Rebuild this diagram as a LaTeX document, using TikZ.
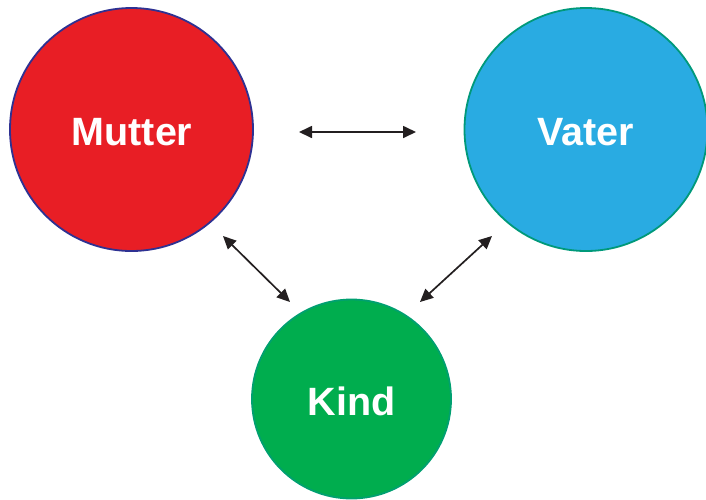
\documentclass[tikz,border=0pt]{standalone}
\usepackage{fontspec}
\setmainfont{Liberation Sans}
\usetikzlibrary{arrows.meta}
\definecolor{cred}{HTML}{E81E25}
\definecolor{cblue}{HTML}{29ABE2}
\definecolor{cgreen}{HTML}{00AD4E}
\definecolor{credline}{HTML}{2E3192}
\definecolor{cblueline}{HTML}{00997A}
\definecolor{cgreenline}{HTML}{00A070}
\definecolor{carrow}{HTML}{231F20}
\tikzset{
  person/.style={circle, inner sep=0pt, line width=1.8pt, text=white,
    font=\bfseries\fontsize{39.5}{44}\selectfont},
  rel/.style={{Triangle[length=13pt,width=12pt]}-{Triangle[length=13pt,width=12pt]}, line width=1.7pt, draw=carrow}
}
\begin{document}
\begin{tikzpicture}[x=1pt,y=-1pt]
\useasboundingbox (0,0) rectangle (706,499);
\node[person, fill=cred, draw=credline, minimum size=243pt] (m) at (131.5,129.5) {};
\node[person, fill=cblue, draw=cblueline, minimum size=243pt] (v) at (586,129.5) {};
\node[person, fill=cgreen, draw=cgreenline, minimum size=199pt] (k) at (351.5,399) {};
\node[person, anchor=center] (mt) at (132,132) {Mutter};
\node[person, anchor=center] (vt) at (586,132) {Vater};
\node[person, anchor=center] (kt) at (351.5,401) {Kind};
\coordinate (mv1) at (299,132);
\coordinate (mv2) at (416,132);
\coordinate (mk1) at (223,236);
\coordinate (mk2) at (290,302);
\coordinate (vk1) at (492,236);
\coordinate (vk2) at (420,302);
\draw[rel] (mv1) -- (mv2);
\draw[rel] (mk1) -- (mk2);
\draw[rel] (vk1) -- (vk2);
\end{tikzpicture}
\end{document}
